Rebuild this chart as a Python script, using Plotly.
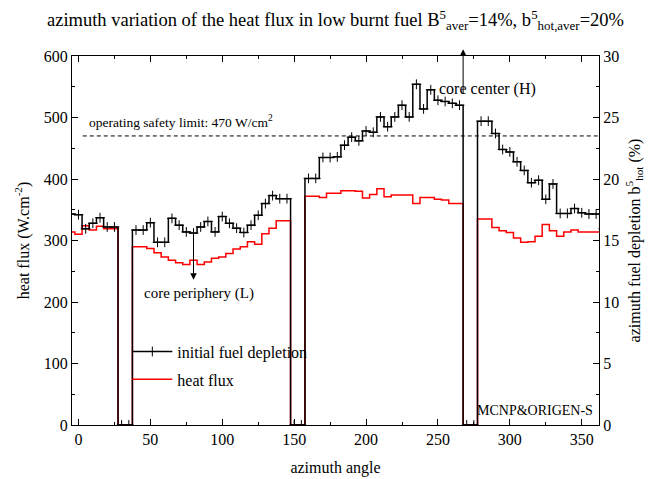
import plotly.graph_objects as go

# azimuth angles (deg), bins of 5 deg (edge points -5 and 365 only fill the axis edges)
angles = [-5, 0, 5, 10, 15, 20, 25, 30, 35, 40, 45, 50, 55, 60, 65, 70, 75, 80, 85, 90,
          95, 100, 105, 110, 115, 120, 125, 130, 135, 140, 145, 150, 155, 160, 165, 170,
          175, 180, 185, 190, 195, 200, 205, 210, 215, 220, 225, 230, 235, 240, 245, 250,
          255, 260, 265, 270, 275, 280, 285, 290, 295, 300, 305, 310, 315, 320, 325, 330,
          335, 340, 345, 350, 355, 360, 365]

# initial fuel depletion b5 (%) - right axis
depletion = [17.15, 17.1, 15.95, 16.4, 16.85, 16.1, 16.1, 0, 0, 15.85, 15.85, 16.45, 14.85,
             14.85, 16.8, 16.25, 15.7, 15.6, 16.1, 16.55, 15.7, 16.95, 16.4, 16.0, 15.65,
             16.25, 17.05, 18.0, 18.65, 18.4, 18.4, 0, 0, 20.05, 20.05, 21.75, 21.75, 21.8,
             22.75, 23.4, 23.1, 23.9, 23.8, 25.05, 24.25, 25.05, 26.0, 25.05, 27.7, 25.7,
             27.25, 26.4, 26.3, 26.15, 26.0, 0, 0, 24.7, 24.7, 23.7, 22.4, 22.2, 21.4, 20.7,
             19.7, 19.9, 18.35, 19.6, 17.2, 17.2, 17.6, 17.25, 17.15, 17.15, 15.95]

# heat flux (W/cm2) - left axis
heat_flux = [314, 310, 324, 317, 323, 319, 319, 0, 0, 290, 290, 287, 280, 273, 268, 264, 261,
             268, 261, 265, 271, 273, 279, 286, 290, 298, 294, 311, 320, 332, 332, 0, 0, 372,
             372, 370, 377, 377, 381, 381, 380, 369, 375, 384, 371, 374, 374, 374, 360, 370,
             370, 367, 366, 360, 360, 0, 0, 335, 335, 321, 316, 313, 304, 297, 298, 307, 326,
             316, 307, 314, 317, 314, 314, 314, 324]

safety_limit = 470

FONT = "Times New Roman, Liberation Serif, serif"

fig = go.Figure()

fig.add_trace(go.Scatter(
    x=angles, y=heat_flux, name="heat flux", mode="lines",
    line=dict(color="#ff0000", width=1.5, shape="hvh"),
    legendgroup="b", legendrank=2,
))
fig.add_trace(go.Scatter(
    x=angles, y=depletion, name="initial fuel depletion", mode="lines+markers",
    yaxis="y2",
    line=dict(color="black", width=1.5, shape="hvh"),
    marker=dict(symbol="cross-thin", size=7, color="black",
                line=dict(color="black", width=1)),
    legendgroup="a", legendrank=1,
))

# safety limit dashed line
fig.add_shape(type="line", xref="x", yref="y", x0=3, x1=362, y0=safety_limit, y1=safety_limit,
              line=dict(color="black", width=1, dash="4px,3px"))

annotations = [
    dict(text="operating safety limit: 470 W/cm<sup>2</sup>", x=6, y=493, xref="x", yref="y",
         xanchor="left", yanchor="middle", showarrow=False, font=dict(size=13.5)),
    dict(text="", x=267.5, y=1.018, xref="x", yref="paper", ax=0, ay=46,
         showarrow=True, arrowhead=2, arrowsize=1.3, arrowwidth=1, arrowcolor="black"),
    dict(text="core center (H)", x=284.5, y=546, xref="x", yref="y",
         xanchor="center", yanchor="middle", showarrow=False, font=dict(size=16)),
    dict(text="", x=80, y=236, xref="x", yref="y", ax=80, ay=318, axref="x", ayref="y",
         showarrow=True, arrowhead=2, arrowsize=1.3, arrowwidth=1, arrowcolor="black"),
    dict(text="core periphery (L)", x=84, y=214, xref="x", yref="y",
         xanchor="center", yanchor="middle", showarrow=False, font=dict(size=15)),
    dict(text="MCNP&ORIGEN-S", x=359, y=23, xref="x", yref="y",
         xanchor="right", yanchor="middle", showarrow=False, font=dict(size=14)),
]

axis_common = dict(
    showline=True, linecolor="black", linewidth=1, showgrid=False, zeroline=False,
    ticks="inside", ticklen=6, tickwidth=1, tickcolor="black", automargin=False,
    tickfont=dict(size=16, family=FONT, color="black"),
)

fig.update_layout(
    width=659, height=479,
    margin=dict(l=72, r=60, t=56, b=54, autoexpand=False),
    paper_bgcolor="white", plot_bgcolor="white",
    font=dict(family=FONT, color="black", size=16),
    title=dict(text="azimuth variation of the heat flux in low burnt fuel B<sup>5</sup><sub>aver</sub>=14%, "
                    "b<sup>5</sup><sub>hot,aver</sub>=20%",
               x=0.5, xref="paper", xanchor="center", y=1 - 20 / 479, yref="container",
               yanchor="middle", font=dict(size=18.5, family=FONT)),
    xaxis=dict(range=[-4.5, 362], tick0=0, dtick=50, mirror="ticks",
               minor=dict(dtick=25, ticklen=3, ticks="inside", tickcolor="black"),
               title=dict(text="azimuth angle", font=dict(size=16), standoff=14),
               **axis_common),
    yaxis=dict(range=[0, 600], tick0=0, dtick=100,
               minor=dict(dtick=50, ticklen=3, ticks="inside", tickcolor="black"),
               title=dict(text="heat flux (W.cm<sup>-2</sup>)", font=dict(size=16), standoff=10),
               **axis_common),
    yaxis2=dict(range=[0, 30], tick0=0, dtick=5, overlaying="y", side="right",
                minor=dict(dtick=2.5, ticklen=3, ticks="inside", tickcolor="black"),
                title=dict(text="azimuth fuel depletion b<sup>5</sup><sub>hot</sub> (%)",
                           font=dict(size=16), standoff=10),
                **axis_common),
    legend=dict(x=0.105, y=0.245, xanchor="left", yanchor="top", bgcolor="rgba(0,0,0,0)",
                font=dict(size=16, family=FONT), tracegroupgap=4, itemwidth=40),
    annotations=annotations,
    showlegend=True,
)

fig.write_html("out.html", config={"displayModeBar": False},
               post_script="document.body.style.margin='0';document.body.style.overflow='hidden';")
